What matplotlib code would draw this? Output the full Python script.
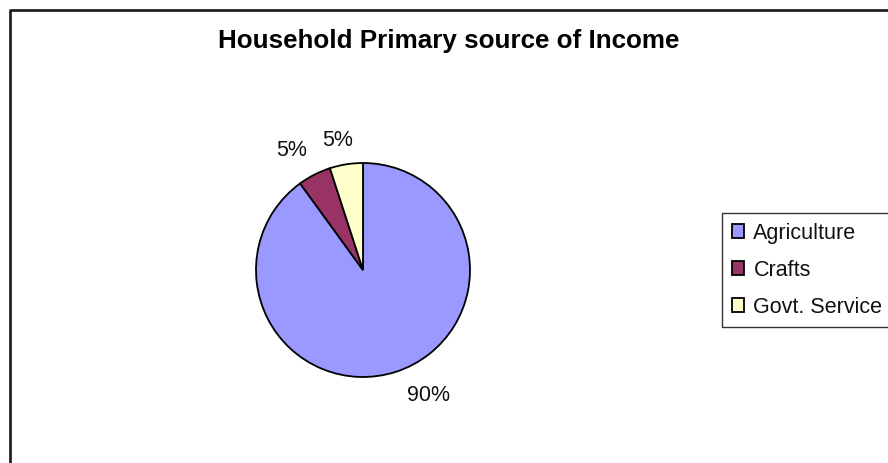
import numpy as np
import matplotlib
matplotlib.use("Agg")
import matplotlib.pyplot as plt
from matplotlib.patches import Patch
from matplotlib.lines import Line2D

plt.rcParams['font.family'] = ['Liberation Sans', 'DejaVu Sans']

categories = ["Agriculture", "Crafts", "Govt. Service"]
values = [90, 5, 5]
colors = ["#9999FF", "#993366", "#FFFFCC"]
title = "Household Primary source of Income"

# label placement (radius in pie units, angle in degrees) - layout only
label_layout = [(1.32, -62.5), (1.30, 121.0), (1.23, 101.0)]

W, H = 888, 463
fig = plt.figure(figsize=(W / 100, H / 100), dpi=100)
fig.patch.set_facecolor("white")

# pie axes: center (363, 270) px from top, radius ~107 px
cx, cy, r = 363, 270, 107
ax = fig.add_axes([(cx - r) / W, (H - cy - r) / H, 2 * r / W, 2 * r / H])
wedges, texts = ax.pie(
    values, colors=colors, startangle=90, counterclock=False,
    wedgeprops=dict(edgecolor="black", linewidth=1.3))
ax.set_xlim(-1, 1)
ax.set_ylim(-1, 1)
ax.set_aspect("equal")
ax.axis("off")

total = float(sum(values))
for v, (rr, ang) in zip(values, label_layout):
    a = np.deg2rad(ang)
    ax.text(rr * np.cos(a), rr * np.sin(a), f"{100 * v / total:.0f}%",
            ha="center", va="center", fontsize=15.5, color="#111111")

fig.text(449 / W, 1 - 41 / H, title, ha="center", va="center",
         fontsize=18.7, fontweight="bold")

# outer chart frame (left and top edges visible)
fig.add_artist(Line2D([9.5 / W, 9.5 / W, 1.0], [0, 1 - 9.5 / H, 1 - 9.5 / H],
                      transform=fig.transFigure, color="#222222", linewidth=2))

handles = [Patch(facecolor=c, edgecolor="black", linewidth=1.3) for c in colors]
leg = fig.legend(handles, categories, loc="upper left",
                 bbox_to_anchor=(722 / W, 1 - 213 / H), borderaxespad=0,
                 frameon=True, fancybox=False, edgecolor="black",
                 fontsize=15.5, handlelength=0.59, handleheight=0.59,
                 handletextpad=0.42, labelspacing=0.74, borderpad=0.45)
leg.get_frame().set_linewidth(1)
for t in leg.get_texts():
    t.set_color("#111111")

fig.savefig("out.png", dpi=100, facecolor="white")
